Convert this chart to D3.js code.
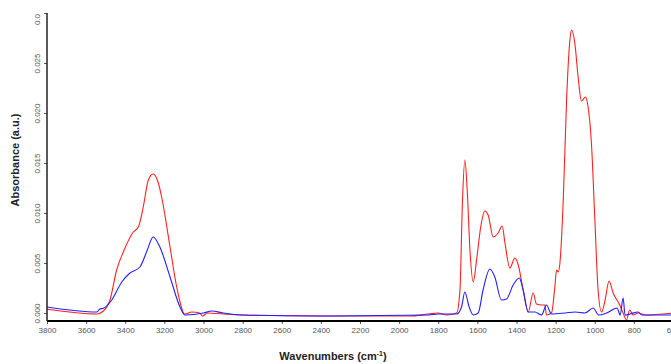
<!DOCTYPE html>
<html><head><meta charset="utf-8">
<script src="https://cdn.jsdelivr.net/npm/d3@7"></script>
<style>body{margin:0;background:#fff;}svg{display:block;}</style>
</head><body>
<script>
const xTicks = [3800,3600,3400,3200,3000,2800,2600,2400,2200,2000,1800,1600,1400,1200,1000,800,600];
const yTicks = [0,0.005,0.010,0.015,0.020,0.025,0.030];
const yTickLabels = ["0.000","0.005","0.010","0.015","0.020","0.025","0.0"];

const redWave = [3800,3545,3512,3478,3444,3410,3359,3333,3308,3282,3257,3231,3214,3171,3137,3095,3060,3020,3005,2980,2900,2800,2400,1945,1850,1800,1757,1706,1689,1676,1664,1652,1638,1621,1604,1583,1562,1545,1519,1494,1473,1459,1434,1408,1391,1366,1340,1315,1298,1272,1255,1247,1221,1204,1195,1187,1178,1161,1144,1127,1119,1102,1085,1068,1047,1034,1017,1000,983,965,948,927,906,872,855,838,821,804,778,740,600];
const redAbs = [0.00037,-0.0001,0.0002,0.0013,0.0043,0.0061,0.0081,0.0086,0.0106,0.0133,0.0139,0.0130,0.0116,0.0066,0.0026,-0.0001,0.0001,0.0000,-0.0003,0.0000,-0.0001,-0.0002,-0.0003,-0.0003,-0.0001,0.0000,-0.0002,0.0000,0.0023,0.0113,0.0153,0.0123,0.0063,0.0031,0.0053,0.0086,0.0102,0.0098,0.0076,0.0080,0.0087,0.0070,0.0045,0.0055,0.0048,0.0023,0.0001,0.0020,0.0009,0.0008,0.0008,-0.0002,0.0000,0.0026,0.0043,0.0041,0.0050,0.0113,0.0213,0.0273,0.0283,0.0270,0.0236,0.0212,0.0216,0.0206,0.0170,0.0096,0.0023,0.0001,0.0012,0.0032,0.0020,0.0008,0.0000,-0.0007,0.0003,-0.0002,0.0000,-0.0002,0.0000];

const blueWave = [3800,3545,3530,3512,3469,3418,3376,3325,3291,3257,3223,3171,3120,3095,3000,2957,2900,2800,2400,1850,1800,1706,1681,1664,1642,1621,1596,1571,1536,1511,1477,1451,1417,1386,1366,1340,1306,1272,1247,1221,1150,1100,1050,1008,980,940,886,870,855,845,820,778,760,600];
const blueAbs = [0.0006,0.0001,0.0004,0.00047,0.0013,0.0031,0.0040,0.0046,0.0061,0.0076,0.0066,0.0036,0.0006,-0.0002,0.0000,0.0002,0.0000,-0.0002,-0.0003,-0.0002,-0.0001,-0.0001,0.0006,0.0021,0.0006,-0.0002,0.0000,0.0023,0.0044,0.0036,0.0013,0.0014,0.0028,0.0035,0.0023,0.0001,0.0001,-0.0002,0.0008,-0.0001,0.0000,0.0001,0.0000,0.0005,-0.0002,0.0000,0.0005,-0.0002,0.0015,-0.0002,-0.0001,0.0001,-0.0002,-0.0002];

const W = 671, H = 364;
const svg = d3.select("body").append("svg").attr("width", W).attr("height", H);

const x = d3.scaleLinear().domain([3800, 600]).range([47, 673]);
const y = d3.scaleLinear().domain([0, 0.030]).range([313, 13]);
const axisY = 321;

const line = d3.line().x(d => x(d[0])).y(d => y(d[1])).curve(d3.curveMonotoneX);

const plot = svg.append("g");
plot.append("path").datum(redWave.map((w,i)=>[w,redAbs[i]]))
  .attr("d", line).attr("fill","none").attr("stroke","#ff2020").attr("stroke-width",1.1);
plot.append("path").datum(blueWave.map((w,i)=>[w,blueAbs[i]]))
  .attr("d", line).attr("fill","none").attr("stroke","#2020ff").attr("stroke-width",1.1);

// X axis
const xAxis = d3.axisBottom(x).tickValues(xTicks).tickSize(3).tickPadding(3).tickFormat(d3.format("d"));
const gx = svg.append("g").attr("transform", `translate(0,${axisY})`).call(xAxis);
gx.select(".domain").remove();
gx.append("line").attr("x1",47).attr("x2",W).attr("y1",0).attr("y2",0).attr("stroke","#000").attr("stroke-width",2);
gx.selectAll(".tick line").attr("stroke","#555");
gx.selectAll(".tick text").attr("fill","#555").style("font-family","Liberation Sans, Arial, sans-serif").style("font-size","8px");

// Y axis
const yAxis = d3.axisLeft(y).tickValues(yTicks).tickSize(3).tickFormat((d,i)=>yTickLabels[i]);
const gy = svg.append("g").attr("transform","translate(47,0)").call(yAxis);
gy.select(".domain").remove();
gy.append("line").attr("x1",0).attr("x2",0).attr("y1",13).attr("y2",axisY).attr("stroke","#222").attr("stroke-width",1.5);
gy.selectAll(".tick line").attr("stroke","#555");
gy.selectAll(".tick text")
  .attr("x",null).attr("dy",null)
  .attr("text-anchor","middle")
  .attr("transform", function(d,i){ const off = (i===yTicks.length-1) ? 6 : 0; return `translate(-7,${off}) rotate(-90)`; })
  .attr("y",0)
  .attr("fill","#555").style("font-family","Liberation Sans, Arial, sans-serif").style("font-size","8px");

// Titles
svg.append("text").attr("transform","translate(19,160) rotate(-90)")
  .attr("text-anchor","middle").style("font-family","Liberation Sans, Arial, sans-serif")
  .style("font-size","11px").style("font-weight","bold").attr("fill","#222")
  .text("Absorbance (a.u.)");

const xt = svg.append("text").attr("x",333).attr("y",360).attr("text-anchor","middle")
  .style("font-family","Liberation Sans, Arial, sans-serif").style("font-size","11px").style("font-weight","bold").attr("fill","#222");
xt.append("tspan").text("Wavenumbers (cm");
xt.append("tspan").attr("dy",-4).style("font-size","7px").text("-1");
xt.append("tspan").attr("dy",4).text(")");
</script>
</body></html>
